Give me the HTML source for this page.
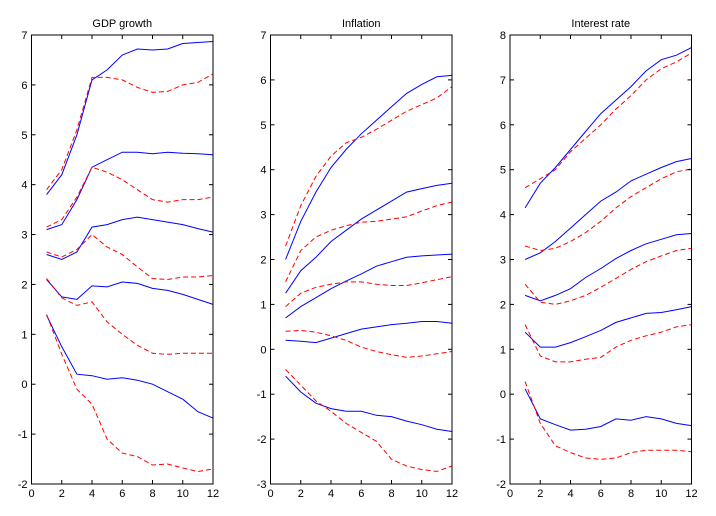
<!DOCTYPE html>
<html><head><meta charset="utf-8"><style>
html,body{margin:0;padding:0;background:#fff;}
svg{display:block;font-family:"Liberation Sans",Arial,sans-serif;}
</style></head><body>
<svg id="s" width="716" height="516" xmlns="http://www.w3.org/2000/svg"></svg>
<script>
var P=[
{x:31.5,t:"GDP growth",lo:-2,hi:7,s:[
["b",[3.8,4.2,5.0,6.1,6.3,6.6,6.72,6.7,6.72,6.83,6.85,6.87]],
["r",[3.9,4.3,5.1,6.15,6.15,6.1,5.95,5.85,5.87,6.0,6.05,6.22]],
["b",[3.1,3.2,3.7,4.35,4.5,4.65,4.65,4.62,4.65,4.63,4.62,4.6]],
["r",[3.15,3.3,3.75,4.35,4.25,4.1,3.9,3.7,3.65,3.7,3.7,3.75]],
["b",[2.6,2.5,2.65,3.15,3.2,3.3,3.35,3.3,3.25,3.2,3.12,3.05]],
["r",[2.65,2.55,2.7,3.0,2.75,2.6,2.35,2.12,2.1,2.15,2.15,2.18]],
["b",[2.1,1.75,1.7,1.97,1.95,2.05,2.02,1.92,1.88,1.8,1.7,1.6]],
["r",[2.12,1.73,1.58,1.65,1.25,1.0,0.78,0.62,0.6,0.62,0.62,0.62]],
["b",[1.38,0.75,0.2,0.17,0.1,0.13,0.08,0.0,-0.15,-0.3,-0.55,-0.68]],
["r",[1.4,0.6,-0.1,-0.4,-1.1,-1.38,-1.45,-1.62,-1.6,-1.68,-1.75,-1.7]]]},
{x:270.5,t:"Inflation",lo:-3,hi:7,s:[
["b",[2.0,2.85,3.5,4.05,4.45,4.8,5.1,5.4,5.7,5.9,6.07,6.1]],
["r",[2.3,3.2,3.85,4.3,4.6,4.72,4.9,5.1,5.3,5.45,5.6,5.85]],
["b",[1.25,1.75,2.05,2.4,2.65,2.9,3.1,3.3,3.5,3.58,3.65,3.7]],
["r",[1.5,2.2,2.5,2.65,2.75,2.83,2.85,2.9,2.95,3.08,3.2,3.28]],
["b",[0.7,0.95,1.15,1.35,1.52,1.68,1.85,1.95,2.05,2.08,2.1,2.12]],
["r",[0.95,1.25,1.38,1.45,1.5,1.5,1.45,1.42,1.42,1.48,1.55,1.62]],
["b",[0.2,0.18,0.15,0.25,0.35,0.45,0.5,0.55,0.58,0.62,0.62,0.58]],
["r",[0.4,0.42,0.38,0.3,0.2,0.05,-0.05,-0.12,-0.18,-0.15,-0.1,-0.05]],
["b",[-0.6,-0.95,-1.2,-1.32,-1.38,-1.38,-1.47,-1.5,-1.6,-1.68,-1.78,-1.83]],
["r",[-0.45,-0.8,-1.15,-1.38,-1.65,-1.85,-2.05,-2.45,-2.6,-2.68,-2.72,-2.6]]]},
{x:510,t:"Interest rate",lo:-2,hi:8,s:[
["b",[4.15,4.7,5.05,5.45,5.85,6.25,6.55,6.85,7.2,7.45,7.55,7.72]],
["r",[4.6,4.8,5.0,5.4,5.7,6.0,6.35,6.65,7.0,7.25,7.4,7.6]],
["b",[3.0,3.15,3.4,3.7,4.0,4.3,4.5,4.75,4.9,5.05,5.18,5.25]],
["r",[3.3,3.2,3.25,3.4,3.6,3.85,4.15,4.4,4.6,4.8,4.95,5.02]],
["b",[2.2,2.08,2.2,2.35,2.6,2.8,3.02,3.2,3.35,3.45,3.55,3.58]],
["r",[2.45,2.05,2.0,2.08,2.2,2.38,2.58,2.78,2.95,3.08,3.2,3.25]],
["b",[1.38,1.05,1.05,1.15,1.28,1.42,1.6,1.7,1.8,1.82,1.88,1.95]],
["r",[1.55,0.85,0.72,0.72,0.78,0.82,1.05,1.2,1.3,1.38,1.5,1.55]],
["b",[0.12,-0.55,-0.68,-0.8,-0.78,-0.72,-0.55,-0.58,-0.5,-0.55,-0.65,-0.7]],
["r",[0.28,-0.65,-1.15,-1.3,-1.42,-1.45,-1.42,-1.3,-1.25,-1.25,-1.25,-1.28]]]}];
var W=181.5,T=35,B=484,h="";
P.forEach(function(p){
 var X=function(v){return p.x+v/12*W},Y=function(v){return B-(v-p.lo)/(p.hi-p.lo)*(B-T)};
 p.s.forEach(function(s){
  var d=s[1].map(function(v,i){return (i?"L":"M")+X(i+1).toFixed(1)+","+Y(v).toFixed(1)}).join("");
  h+='<path d="'+d+'" fill="none" stroke="'+(s[0]=="b"?"#0000ff":"#ff0000")+'" stroke-width="1"'+(s[0]=="r"?' stroke-dasharray="5,3"':'')+'/>';
 });
 h+='<rect x="'+p.x+'" y="'+T+'" width="'+W+'" height="'+(B-T)+'" fill="none" stroke="#000" stroke-width="1"/>';
 for(var i=0;i<=12;i+=2){var x=X(i);
  h+='<line x1="'+x+'" y1="'+B+'" x2="'+x+'" y2="'+(B-4)+'" stroke="#000"/><line x1="'+x+'" y1="'+T+'" x2="'+x+'" y2="'+(T+4)+'" stroke="#000"/>';
  h+='<text x="'+x+'" y="'+(B+13)+'" font-size="11" text-anchor="middle">'+i+'</text>';}
 for(var v=p.lo;v<=p.hi;v++){var y=Y(v);
  h+='<line x1="'+p.x+'" y1="'+y+'" x2="'+(p.x+4)+'" y2="'+y+'" stroke="#000"/><line x1="'+(p.x+W)+'" y1="'+y+'" x2="'+(p.x+W-4)+'" y2="'+y+'" stroke="#000"/>';
  h+='<text x="'+(p.x-4)+'" y="'+(y+4)+'" font-size="11" text-anchor="end">'+v+'</text>';}
 h+='<text x="'+(p.x+W/2)+'" y="27" font-size="11" text-anchor="middle">'+p.t+'</text>';
});
document.getElementById("s").innerHTML=h;
</script>
</body></html>
